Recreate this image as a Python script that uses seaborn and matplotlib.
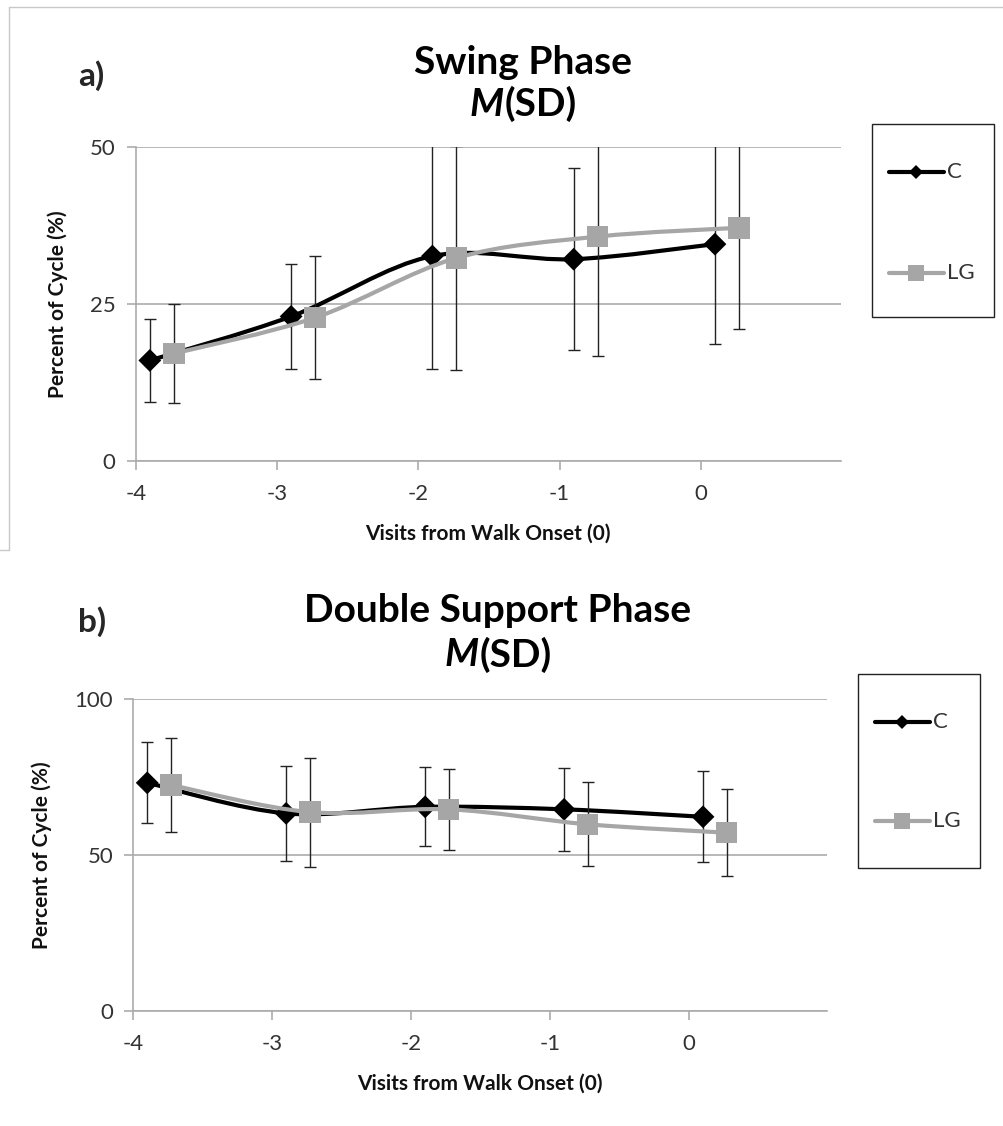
import numpy as np
import pandas as pd
import matplotlib
matplotlib.use("Agg")
import matplotlib.pyplot as plt
from matplotlib.path import Path
from matplotlib.patches import PathPatch, Rectangle
from matplotlib.lines import Line2D
import seaborn as sns

# ---- data -------------------------------------------------------------
groups = ["C", "LG"]
visit_ticks = [-4, -3, -2, -1, 0]
c_visits = [-3.9, -2.9, -1.9, -0.9, 0.1]
lg_visits = [-3.73, -2.73, -1.73, -0.73, 0.27]

swing_c_mean = [16.0, 23.0, 32.6, 32.1, 34.5]
swing_c_sd = [6.6, 8.3, 17.9, 14.5, 15.9]
swing_lg_mean = [17.1, 22.8, 32.3, 35.7, 37.1]
swing_lg_sd = [7.8, 9.8, 17.8, 19.0, 16.1]

dsup_c_mean = [73.2, 63.4, 65.5, 64.7, 62.3]
dsup_c_sd = [13.0, 15.2, 12.7, 13.3, 14.6]
dsup_lg_mean = [72.5, 63.8, 64.7, 59.9, 57.2]
dsup_lg_sd = [15.0, 17.5, 12.9, 13.5, 14.0]

# ---- style ------------------------------------------------------------
sns.set_theme(style="white")
plt.rcParams["font.family"] = ["Lato", "DejaVu Sans"]

BLACK = "#000000"
GREY = "#A6A6A6"
GRID = "#ABABAB"
TEXT = "#333333"

W, H = 1004, 1126
fig = plt.figure(figsize=(W / 100, H / 100), dpi=100)


def px_axes(left, top, right, bottom):
    return fig.add_axes([left / W, 1 - bottom / H, (right - left) / W, (bottom - top) / H])


def smooth_path(x, y):
    """Cubic Bezier path through the points (Catmull-Rom tangents)."""
    pts = np.column_stack([x, y]).astype(float)
    n = len(pts)
    verts = [pts[0]]
    codes = [Path.MOVETO]
    for i in range(n - 1):
        p0 = pts[i - 1] if i > 0 else pts[i]
        p1, p2 = pts[i], pts[i + 1]
        p3 = pts[i + 2] if i + 2 < n else pts[i + 1]
        verts += [p1 + (p2 - p0) / 6, p2 - (p3 - p1) / 6, p2]
        codes += [Path.CURVE4] * 3
    return Path(verts, codes)


def draw_series(ax, x, mean, sd, color, marker, size, z):
    ax.add_patch(PathPatch(smooth_path(x, mean), facecolor="none", edgecolor=color,
                           lw=3.0, capstyle="round", joinstyle="round", zorder=z))
    ax.errorbar(x, mean, yerr=sd, fmt="none", ecolor="#222222", elinewidth=1.0,
                capsize=4.6, capthick=1.0, zorder=z + 1)
    df = pd.DataFrame({"visit": x, "value": mean})
    sns.scatterplot(data=df, x="visit", y="value", marker=marker, s=size, color=color,
                    edgecolor="none", linewidth=0, ax=ax, zorder=z + 2, legend=False)


def style_axis(ax, ymax, yticks):
    ax.set_xlim(-4, 0.99)
    ax.set_ylim(0, ymax)
    ax.set_xticks(visit_ticks)
    ax.set_xticklabels([str(v) for v in visit_ticks])
    ax.set_yticks(yticks)
    ax.set_yticklabels([str(v) for v in yticks])
    ax.grid(axis="y", color=GRID, lw=1.2)
    ax.grid(axis="x", visible=False)
    ax.set_axisbelow(True)
    for s in ("top", "right"):
        ax.spines[s].set_visible(False)
    for s in ("left", "bottom"):
        ax.spines[s].set_color(GRID)
        ax.spines[s].set_linewidth(1.2)
    ax.tick_params(axis="both", direction="out", length=6.5, width=1.2, color=GRID,
                   labelsize=16, labelcolor=TEXT, bottom=True, left=True)
    ax.tick_params(axis="x", pad=10)
    ax.tick_params(axis="y", pad=8)
    ax.set_xlabel("Visits from Walk Onset (0)", fontsize=15, fontweight="bold",
                  color="#111111", labelpad=14)
    ax.set_ylabel("Percent of Cycle (%)", fontsize=15, fontweight="bold",
                  color="#111111", labelpad=16)


def legend_box(left, top, right, bottom, y_c, y_lg):
    fig.add_artist(Rectangle((left / W, 1 - bottom / H), (right - left) / W, (bottom - top) / H,
                             transform=fig.transFigure, facecolor="white",
                             edgecolor="#222222", lw=1.0))
    x0, x1 = left + 17, left + 72
    for yy, col, mk, ms, lab in [(y_c, BLACK, "D", 7.5, groups[0]), (y_lg, GREY, "s", 11, groups[1])]:
        fy = 1 - yy / H
        fig.add_artist(Line2D([x0 / W, x1 / W], [fy, fy], transform=fig.transFigure,
                              color=col, lw=3.0, solid_capstyle="round"))
        fig.add_artist(Line2D([(x0 + x1) / 2 / W], [fy], transform=fig.transFigure,
                              marker=mk, markersize=ms, color=col, markeredgewidth=0, lw=0))
        fig.text((x1 + 3) / W, fy, lab, fontsize=16, color=TEXT, ha="left", va="center")


def titled(cx, y1, y2, line1):
    fig.text(cx / W, 1 - y1 / H, line1, fontsize=28, fontweight="bold", ha="center",
             va="center", color="#000000")
    # "M(SD)" with an italic M
    r = fig.canvas.get_renderer()
    t_m = fig.text(0, 1 - y2 / H, "M", fontsize=28, fontweight="bold", fontstyle="italic",
                   ha="left", va="center", color="#000000")
    t_s = fig.text(0, 1 - y2 / H, "(SD)", fontsize=28, fontweight="bold",
                   ha="left", va="center", color="#000000")
    wm = t_m.get_window_extent(r).width
    ws = t_s.get_window_extent(r).width
    start = cx - (wm + ws) / 2
    t_m.set_x(start / W)
    t_s.set_x((start + wm + 1) / W)


# ---- panel a: swing phase --------------------------------------------
ax1 = px_axes(135.7, 146.7, 840.7, 461.0)
draw_series(ax1, c_visits, swing_c_mean, swing_c_sd, BLACK, "D", 135, 2)
draw_series(ax1, lg_visits, swing_lg_mean, swing_lg_sd, GREY, "s", 240, 6)
style_axis(ax1, 50, [0, 25, 50])

# ---- panel b: double support phase -----------------------------------
ax2 = px_axes(133.3, 699.3, 826.7, 1011.0)
draw_series(ax2, c_visits, dsup_c_mean, dsup_c_sd, BLACK, "D", 135, 2)
draw_series(ax2, lg_visits, dsup_lg_mean, dsup_lg_sd, GREY, "s", 240, 6)
style_axis(ax2, 100, [0, 50, 100])

# ---- titles, panel letters, legends ----------------------------------
titled(523, 62, 104, "Swing Phase")
titled(498, 610, 655, "Double Support Phase")
fig.text(78 / W, 1 - 76 / H, "a)", fontsize=24, fontweight="bold", ha="left", va="center")
fig.text(78 / W, 1 - 622 / H, "b)", fontsize=24, fontweight="bold", ha="left", va="center")

legend_box(872, 124, 994, 317, 172, 273)
legend_box(858, 674, 980, 868, 722, 821)

# faint outer frame of the upper chart
frame_kw = dict(transform=fig.transFigure, color="#C8C8C8", lw=1.0)
fig.add_artist(Line2D([9 / W, 1.0], [1 - 7 / H, 1 - 7 / H], **frame_kw))
fig.add_artist(Line2D([9 / W, 9 / W], [1 - 7 / H, 1 - 550 / H], **frame_kw))
fig.add_artist(Line2D([0, 9 / W], [1 - 550 / H, 1 - 550 / H], **frame_kw))

fig.savefig("out.png", dpi=100, facecolor="white")
